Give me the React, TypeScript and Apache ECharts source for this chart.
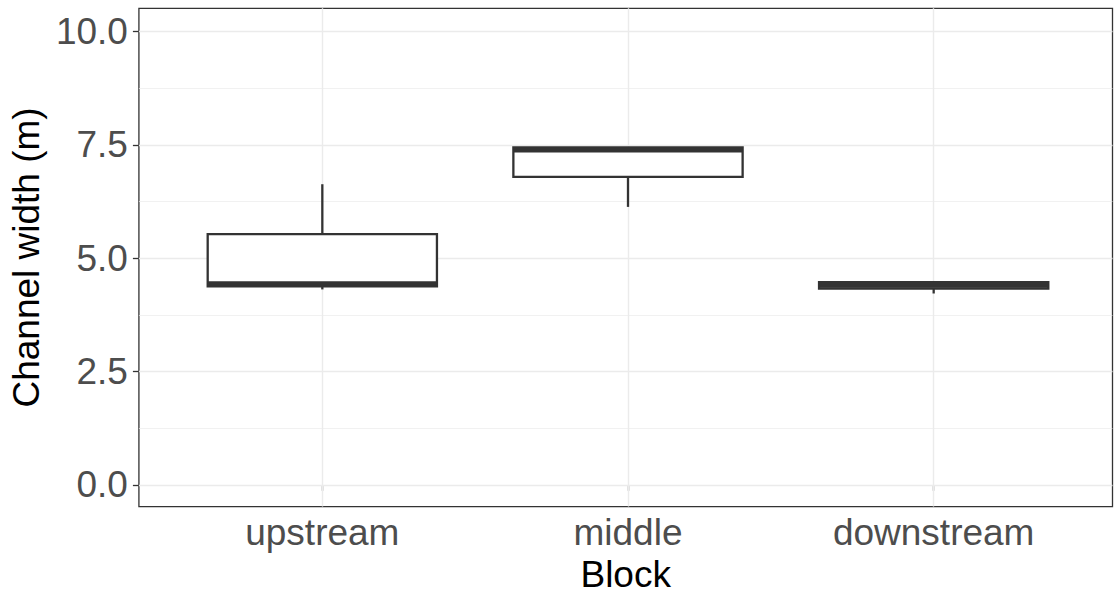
import React, { useEffect, useRef } from "react";
import * as echarts from "echarts";

const categories = ["upstream", "middle", "downstream"];
const categoryPositions = [1, 2, 3];
const whiskerLow = [4.31, 6.13, 4.22];
const q1 = [4.38, 6.79, 4.33];
const median = [4.44, 7.38, 4.4];
const q3 = [5.53, 7.44, 4.47];
const whiskerHigh = [6.63, 7.44, 4.47];
const yTicks = [0, 2.5, 5, 7.5, 10];
const yMinor = [1.25, 3.75, 6.25, 8.75];

const FONT = "'Liberation Sans', Arial, Helvetica, sans-serif";
const DARK = "#333333";
const GRID = "#EBEBEB";

export default function App() {
  const ref = useRef<HTMLDivElement>(null);
  useEffect(() => {
    if (!ref.current) return;
    const chart = echarts.init(ref.current, null, { renderer: "svg" });
    const boxData = categories.map((_, i) => [
      categoryPositions[i],
      whiskerLow[i],
      q1[i],
      median[i],
      q3[i],
      whiskerHigh[i],
    ]);
    const gridLines: any[] = [];
    yTicks.forEach((v) =>
      gridLines.push({ yAxis: v, lineStyle: { color: GRID, width: 1.4, type: "solid" } })
    );
    yMinor.forEach((v) =>
      gridLines.push({ yAxis: v, lineStyle: { color: GRID, width: 0.7, type: "solid" } })
    );
    categoryPositions.forEach((v) =>
      gridLines.push({ xAxis: v, lineStyle: { color: GRID, width: 1.4, type: "solid" } })
    );

    chart.setOption({
      animation: false,
      backgroundColor: "#ffffff",
      textStyle: { fontFamily: FONT },
      grid: {
        left: 137,
        right: 1.5,
        top: 8.3,
        bottom: 83.6,
        show: true,
        borderColor: DARK,
        borderWidth: 1.3,
        backgroundColor: "transparent",
        containLabel: false,
      },
      xAxis: {
        type: "value",
        min: 0.4,
        max: 3.585,
        axisLine: { show: false },
        splitLine: { show: false },
        axisTick: {
          show: true,
          customValues: categoryPositions,
          length: 6,
          lineStyle: { color: DARK, width: 1.3 },
        },
        axisLabel: {
          customValues: categoryPositions,
          formatter: (v: number) => categories[Math.round(v) - 1] ?? "",
          fontSize: 37,
          color: "#4D4D4D",
          margin: 7.5,
          fontFamily: FONT,
        },
        name: "Block",
        nameLocation: "middle",
        nameGap: 45,
        nameTextStyle: { fontSize: 37, color: "#000000", fontFamily: FONT },
      },
      yAxis: {
        type: "value",
        min: -0.48,
        max: 10.51,
        axisLine: { show: false },
        splitLine: { show: false },
        axisTick: {
          show: true,
          customValues: yTicks,
          length: 6,
          lineStyle: { color: DARK, width: 1.3 },
        },
        axisLabel: {
          customValues: yTicks,
          formatter: (v: number) => v.toFixed(1),
          fontSize: 37,
          color: "#4D4D4D",
          margin: 11,
          fontFamily: FONT,
        },
        name: "Channel width (m)",
        nameLocation: "middle",
        nameGap: 89,
        nameTextStyle: { fontSize: 37, color: "#000000", fontFamily: FONT },
      },
      series: [
        {
          type: "line",
          data: [],
          z: 1,
          silent: true,
          markLine: {
            silent: true,
            symbol: ["none", "none"],
            label: { show: false },
            emphasis: { disabled: true },
            data: gridLines,
          },
        },
        {
          type: "custom",
          z: 5,
          silent: true,
          data: boxData,
          encode: { x: 0, y: [1, 2, 3, 4, 5] },
          renderItem: (params: any, api: any) => {
            const x = api.value(0);
            const pLow = api.coord([x, api.value(1)]);
            const pQ1 = api.coord([x, api.value(2)]);
            const pMed = api.coord([x, api.value(3)]);
            const pQ3 = api.coord([x, api.value(4)]);
            const pHigh = api.coord([x, api.value(5)]);
            const halfW = api.size([0.75, 0])[0] / 2;
            const cx = pQ1[0];
            const lineStyle = { stroke: DARK, lineWidth: 2.3, fill: null };
            return {
              type: "group",
              children: [
                {
                  type: "line",
                  shape: { x1: cx, y1: pQ3[1], x2: cx, y2: pHigh[1] },
                  style: lineStyle,
                },
                {
                  type: "line",
                  shape: { x1: cx, y1: pQ1[1], x2: cx, y2: pLow[1] },
                  style: lineStyle,
                },
                {
                  type: "rect",
                  shape: {
                    x: cx - halfW,
                    y: pQ3[1],
                    width: halfW * 2,
                    height: pQ1[1] - pQ3[1],
                  },
                  style: { fill: "#ffffff", stroke: DARK, lineWidth: 2.3 },
                },
                {
                  type: "line",
                  shape: { x1: cx - halfW, y1: pMed[1], x2: cx + halfW, y2: pMed[1] },
                  style: { stroke: DARK, lineWidth: 4.6 },
                },
              ],
            };
          },
        },
      ],
    });
    return () => chart.dispose();
  }, []);
  return (
    <div
      ref={ref}
      style={{ position: "absolute", left: 0, top: 0, width: 1114, height: 598 }}
    />
  );
}
